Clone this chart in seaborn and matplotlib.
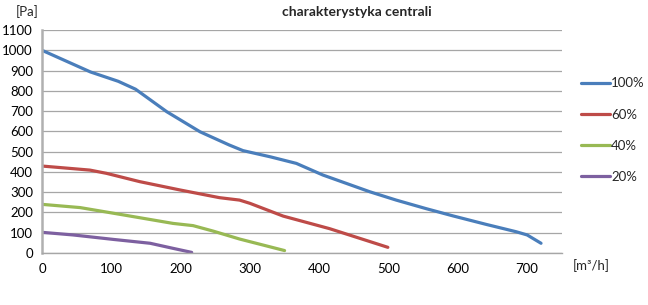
import matplotlib
matplotlib.use("Agg")
import matplotlib.pyplot as plt
import seaborn as sns
import pandas as pd

# data
flow_100 = [0, 70, 110, 135, 180, 228, 270, 290, 330, 367, 405, 473, 511, 554, 593, 641, 684, 700, 720]
pa_100 = [1000, 893, 847, 808, 697, 598, 533, 505, 474, 442, 385, 302, 261, 219, 183, 141, 105, 89, 48]
flow_60 = [0, 69, 93, 141, 199, 256, 285, 300, 348, 415, 499]
pa_60 = [429, 409, 393, 352, 311, 273, 261, 245, 182, 120, 28]
flow_40 = [0, 55, 112, 189, 218, 247, 285, 350]
pa_40 = [240, 224, 191, 146, 135, 108, 69, 12]
flow_20 = [0, 45, 103, 156, 189, 216]
pa_20 = [102, 89, 67, 48, 23, 3]
series_names = ["100%", "60%", "40%", "20%"]
x_ticks = [0, 100, 200, 300, 400, 500, 600, 700]
y_ticks = [0, 100, 200, 300, 400, 500, 600, 700, 800, 900, 1000, 1100]
title = "charakterystyka centrali"
y_label = "[Pa]"
x_label = "[m\u00b3/h]"

frames = []
for name, xs, ys in zip(series_names, [flow_100, flow_60, flow_40, flow_20],
                        [pa_100, pa_60, pa_40, pa_20]):
    frames.append(pd.DataFrame({"flow": xs, "pa": ys, "series": name}))
df = pd.concat(frames, ignore_index=True)

sns.set_theme(style="white")
plt.rcParams["font.family"] = ["Lato", "DejaVu Sans"]

colors = ["#4A7EBB", "#BE4B48", "#98B954", "#7D60A0"]
fig = plt.figure(figsize=(6.48, 3.05), dpi=100)
ax = fig.add_axes([0.0648, 0.1705, 0.8022, 0.7311])
sns.lineplot(data=df, x="flow", y="pa", hue="series", hue_order=series_names,
             palette=colors, linewidth=2.3, ax=ax, sort=False, estimator=None)
for ln in ax.get_lines():
    ln.set_solid_joinstyle("round")
    ln.set_solid_capstyle("round")

ax.set_xlim(0, 750)
ax.set_ylim(0, 1100)
ax.set_xticks(x_ticks)
ax.set_yticks(y_ticks)
ax.tick_params(axis="both", labelsize=9.5, labelcolor="black", color="#a6a6a6",
               length=3.5, width=0.9, direction="out")
ax.tick_params(axis="y", pad=3)
ax.tick_params(axis="x", pad=4)
ax.yaxis.grid(True, color="#a6a6a6", linewidth=0.9)
ax.xaxis.grid(False)
for s in ["top", "right"]:
    ax.spines[s].set_visible(False)
ax.spines["left"].set_color("#b0b0b0")
ax.spines["left"].set_linewidth(1.8)
ax.spines["bottom"].set_color("#a6a6a6")
ax.spines["bottom"].set_linewidth(1.0)
ax.set_xlabel("")
ax.set_ylabel("")

fig.text(0.55, 0.962, title, ha="center", va="center", fontsize=10, fontweight="bold")
fig.text(0.042, 0.962, y_label, ha="center", va="center", fontsize=9.5)
fig.text(0.912, 0.128, x_label, ha="center", va="center", fontsize=9.5)

leg = ax.legend(loc="upper left", bbox_to_anchor=(0.896, 0.746), bbox_transform=fig.transFigure,
                frameon=False, fontsize=9.5, handlelength=2.2, handletextpad=0.1,
                labelspacing=1.45, borderaxespad=0, borderpad=0)
for line in leg.get_lines():
    line.set_linewidth(2.3)

fig.savefig("out.png", dpi=100)
